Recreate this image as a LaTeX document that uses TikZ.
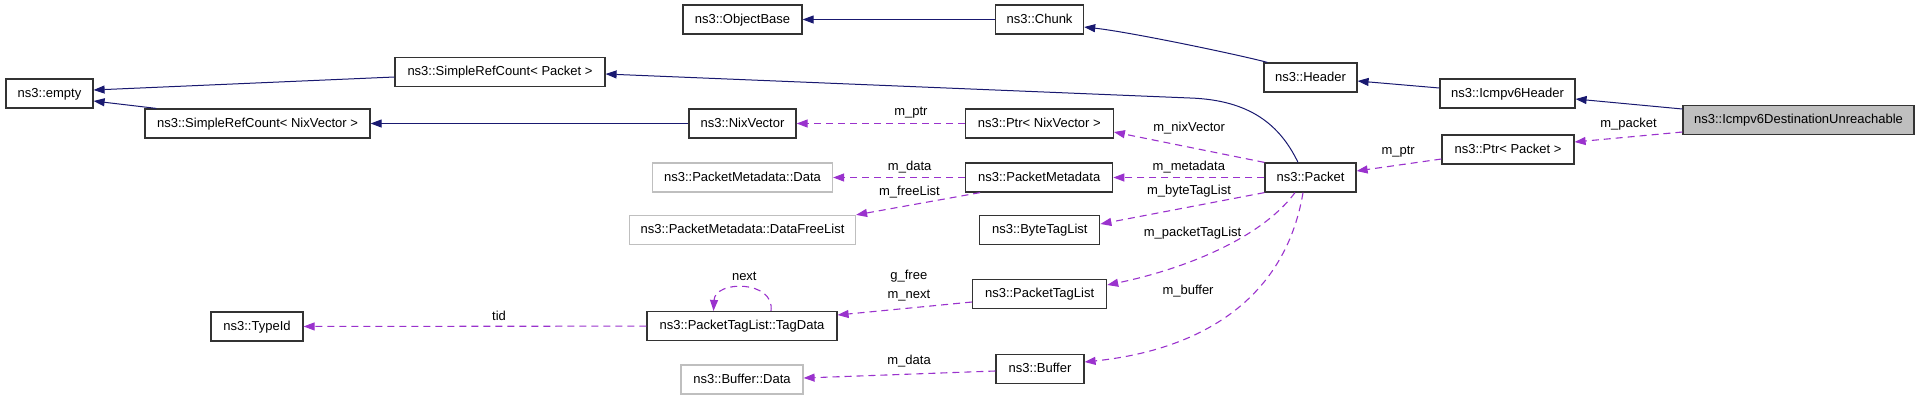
\documentclass[tikz,border=0pt]{standalone}
\usepackage{fontspec}
\setmainfont{Liberation Sans}
\usetikzlibrary{arrows.meta}
\definecolor{edgeblue}{HTML}{191970}
\definecolor{usepurple}{HTML}{9A32CD}
\definecolor{greyline}{HTML}{BFBFBF}
\definecolor{boxline}{HTML}{333333}

\begin{document}
\begin{tikzpicture}[x=1bp, y=-1bp,
    cls/.style={draw=boxline, line width=1.2bp, fill=white, minimum height=29bp, inner sep=0pt,
      text height=9.5bp, text depth=2.5bp, font=\fontsize{13bp}{15bp}\selectfont},
    ext/.style={cls, draw=greyline},
    focus/.style={cls, fill=greyline},
    inherit/.style={-{Triangle[length=11bp,width=8bp]}, edgeblue, line width=1bp},
    uses/.style={-{Triangle[length=11bp,width=8bp]}, usepurple, line width=1.1bp, dash pattern=on 7bp off 5bp},
    lbl/.style={font=\fontsize{13bp}{19bp}\selectfont, inner sep=0pt, text=black, align=center}]
    %collaboration graph
    \useasboundingbox (0,0) rectangle (1920,400);
    \node[cls, minimum width=87bp] at (49.5, 93.5) (empty){ns3::empty};
    \node[cls, minimum width=210bp] at (500, 72) (srcpkt){ns3::SimpleRefCount< Packet >};
    \node[cls, minimum width=225bp] at (257.5, 123.5) (srcnix){ns3::SimpleRefCount< NixVector >};
    \node[cls, minimum width=92bp] at (257, 326.5) (typeid){ns3::TypeId};
    \node[cls, minimum width=119bp] at (742.5, 19.5) (objbase){ns3::ObjectBase};
    \node[cls, minimum width=107bp] at (742.5, 123.5) (nix){ns3::NixVector};
    \node[ext, minimum width=180bp] at (742.5, 177.5) (pmdata){ns3::PacketMetadata::Data};
    \node[ext, minimum width=226bp] at (742.5, 230) (freelist){ns3::PacketMetadata::DataFreeList};
    \node[cls, minimum width=190bp] at (742, 326) (tagdata){ns3::PacketTagList::TagData};
    \node[ext, minimum width=122bp] at (742, 379.5) (bufdata){ns3::Buffer::Data};
    \node[cls, minimum width=88bp] at (1039.6, 19.5) (chunk){ns3::Chunk};
    \node[cls, minimum width=148bp] at (1039.3, 123.5) (ptrnix){ns3::Ptr< NixVector >};
    \node[cls, minimum width=147bp] at (1039.2, 177.5) (meta){ns3::PacketMetadata};
    \node[cls, minimum width=120bp] at (1039.8, 230) (bytetags){ns3::ByteTagList};
    \node[cls, minimum width=134bp] at (1039.6, 294) (pkttags){ns3::PacketTagList};
    \node[cls, minimum width=88bp] at (1040, 369) (buffer){ns3::Buffer};
    \node[cls, minimum width=93bp] at (1310.5, 77.5) (header){ns3::Header};
    \node[cls, minimum width=91bp] at (1310.5, 177.5) (packet){ns3::Packet};
    \node[cls, minimum width=135bp] at (1507.5, 93.5) (icmp){ns3::Icmpv6Header};
    \node[cls, minimum width=132bp] at (1508, 149.5) (ptrpkt){ns3::Ptr< Packet >};
    \node[focus, minimum width=231bp] at (1798.5, 120) (unreach){ns3::Icmpv6DestinationUnreachable};
    % inheritance
    \draw[inherit] ([yshift=11bp]unreach.west) -- ([yshift=-5.5bp]icmp.east);
    \draw[inherit] ([yshift=5.5bp]icmp.west) -- ([yshift=-3.5bp]header.east);
    \draw[inherit] ([xshift=4bp]header.north west) .. controls (1240,55) and (1130,32) .. ([yshift=-7.5bp]chunk.east);
    \draw[inherit] (chunk) -- (objbase);
    \draw[inherit] ([xshift=-12.5bp]packet.north) .. controls (1280,125) and (1250,100) .. (1190,98) -- ([yshift=-2bp]srcpkt.east);
    \draw[inherit] ([yshift=-5bp]srcpkt.west) -- ([yshift=3.5bp]empty.east);
    \draw[inherit] ([xshift=12bp]srcnix.north west) -- ([yshift=-7.5bp]empty.east);
    \draw[inherit] (nix) -- (srcnix);
    % members
    \draw[uses] ([yshift=-12bp]unreach.west) -- node[lbl, pos=0.5, yshift=13bp]{m\_packet} ([yshift=7.5bp]ptrpkt.east);
    \draw[uses] ([yshift=-9.5bp]ptrpkt.west) -- node[lbl, pos=0.51, yshift=13bp]{m\_ptr} ([yshift=6.5bp]packet.east);
    \draw[uses] (packet.north west) -- node[lbl, pos=0.5, yshift=19bp]{m\_nixVector} ([yshift=-8.5bp]ptrnix.east);
    \draw[uses] (packet) -- node[lbl, pos=0.5, yshift=10bp]{m\_metadata} (meta);
    \draw[uses] (packet.south west) -- node[lbl, pos=0.46, yshift=15.7bp]{m\_byteTagList} ([yshift=6bp]bytetags.east);
    \draw[uses] ([xshift=-15.5bp]packet.south) .. controls (1260,240) and (1180,270) .. node[lbl, pos=0.61, yshift=27bp]{m\_packetTagList} ([yshift=9bp]pkttags.east);
    \draw[uses] ([xshift=-7.5bp]packet.south) .. controls (1285,300) and (1200,350) .. node[lbl, pos=0.65, xshift=-5bp, yshift=44bp]{m\_buffer} ([yshift=7bp]buffer.east);
    \draw[uses] (ptrnix) -- node[lbl, pos=0.32, yshift=10.5bp]{m\_ptr} (nix);
    \draw[uses] (meta) -- node[lbl, pos=0.42, yshift=10bp]{m\_data} (pmdata);
    \draw[uses] ([xshift=15bp]meta.south west) -- node[lbl, pos=0.57, yshift=13bp]{m\_freeList} (freelist.north east);
    \draw[uses] ([yshift=-8bp]pkttags.west) -- node[lbl, pos=0.47, yshift=22.6bp]{g\_free\\m\_next} ([yshift=11bp]tagdata.east);
    \draw[uses] ([xshift=29bp]tagdata.north) .. controls (775,280) and (715,280) .. node[lbl, pos=0.5, yshift=11bp]{next} ([xshift=-28.5bp]tagdata.north);
    \draw[uses] (tagdata) -- node[lbl, pos=0.43, yshift=10.7bp]{tid} (typeid);
    \draw[uses] ([yshift=-2bp]buffer.west) -- node[lbl, pos=0.45, yshift=13.2bp]{m\_data} ([yshift=1.5bp]bufdata.east);
  \end{tikzpicture}
\end{document}
